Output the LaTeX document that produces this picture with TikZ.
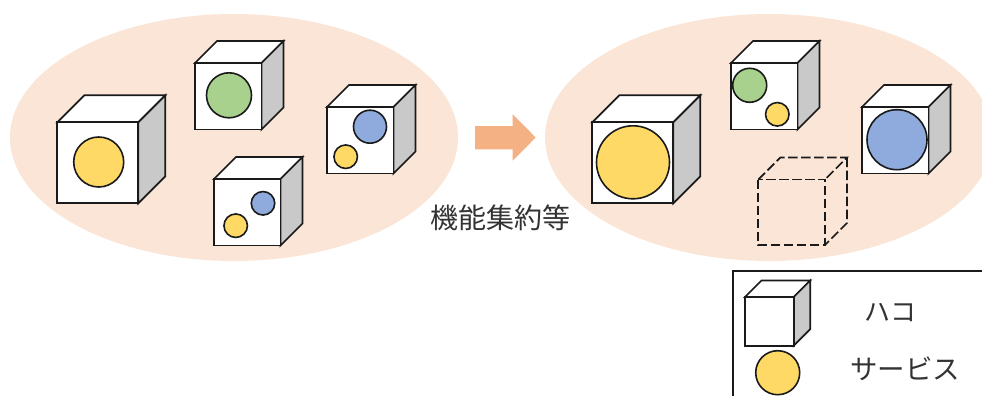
\documentclass[tikz,border=0pt]{standalone}
\usepackage{fontspec}
\newfontfamily\cjk{Noto Sans CJK JP}
\definecolor{blobc}{HTML}{FBE5D6}
\definecolor{arrowc}{HTML}{F4B183}
\definecolor{yellowc}{HTML}{FFD966}
\definecolor{greenc}{HTML}{A9D18E}
\definecolor{bluec}{HTML}{8FAADC}
\definecolor{sidec}{HTML}{C9C9C9}
\definecolor{linec}{HTML}{1A1A1A}
\tikzset{
  blob/.style={ellipse,fill=blobc,draw=none,minimum width=448pt,minimum height=247pt,inner sep=0pt},
  svc/.style={circle,draw=linec,line width=1.6pt,inner sep=0pt,minimum size=#1},
  edge/.style={draw=linec,line width=1.7pt,line join=miter},
  dashedge/.style={draw=linec,line width=1.7pt,dash pattern=on 9.5pt off 3.5pt},
  label/.style={inner sep=0pt,font=\cjk,text=black!80}
}
% #1 left, #2 top, #3 width/height of front face, #4 depth
\newcommand{\cubebox}[4]{%
  \path[edge,fill=white] (#1,#2) -- ++(#4,-#4) -- ++(#3,0) -- ++(-#4,#4) -- cycle;
  \path[edge,fill=sidec] (#1+#3,#2) -- ++(#4,-#4) -- ++(0,#3) -- ++(-#4,#4) -- cycle;
  \path[edge,fill=white] (#1,#2) rectangle ++(#3,#3);
}
\usetikzlibrary{shapes.geometric}
\begin{document}
\begin{tikzpicture}[x=1pt,y=-1pt]
\useasboundingbox (0,0) rectangle (982,396);
\clip (0,0) rectangle (982,396);
\node[blob] (blobL) at (234,137.5) {};
\node[blob] (blobR) at (769,137.5) {};

% left group
\cubebox{57.3}{122.3}{81}{27}
\node[svc=50pt,fill=yellowc] (a1) at (98.7,162) {};
\cubebox{195}{63}{66.5}{22}
\node[svc=45pt,fill=greenc] (b1) at (229,95.3) {};
\cubebox{327}{107}{66.5}{22}
\node[svc=33pt,fill=bluec] (c1) at (370,126.7) {};
\node[svc=23.5pt,fill=yellowc] (c2) at (345.7,156.7) {};
\cubebox{214}{179}{66.5}{22}
\node[svc=23.5pt,fill=bluec] (d1) at (263,203.3) {};
\node[svc=23.5pt,fill=yellowc] (d2) at (235.7,225.7) {};

% arrow
\fill[arrowc] (475,126) -- (512.7,126) -- (512.7,114.3) -- (535.7,137.5) -- (512.7,160.7) -- (512.7,149.3) -- (475,149.3) -- cycle;

% right group
\cubebox{592.3}{122.3}{81}{27}
\node[svc=73pt,fill=yellowc] (e1) at (633,162.3) {};
\cubebox{731}{63}{66.5}{22}
\node[svc=34pt,fill=greenc] (f1) at (749.7,85.3) {};
\node[svc=23.5pt,fill=yellowc] (f2) at (777.3,114.3) {};
\cubebox{862}{107}{66.5}{22}
\node[svc=60pt,fill=bluec] (g1) at (897,139.7) {};

% dashed cube
\draw[dashedge] (758.3,179.5) rectangle (825,245);
\draw[dashedge] (758.3,179.5) -- (780.3,157.5) -- (847,157.5) -- (825,179.5);
\draw[dashedge] (847,157.5) -- (847,223) -- (825,245);

\node[label,font=\cjk\fontsize{28}{28}\selectfont,anchor=center] (t1) at (500.5,218) {機能集約等};

% legend
\coordinate (lgA) at (733.3,396);
\coordinate (lgB) at (733.3,271);
\coordinate (lgC) at (982,271);
\draw[edge] (lgA) -- (lgB) -- (lgC);
\cubebox{745}{297}{48.7}{16.5}
\node[svc=44pt,fill=yellowc] (h1) at (777.7,372.7) {};
\node[label,font=\cjk\fontsize{26}{26}\selectfont] (t2) at (890,312.5) {ハコ};
\node[label,font=\cjk\fontsize{27.5}{27.5}\selectfont] (t3) at (905,368.5) {サービス};
\end{tikzpicture}
\end{document}
